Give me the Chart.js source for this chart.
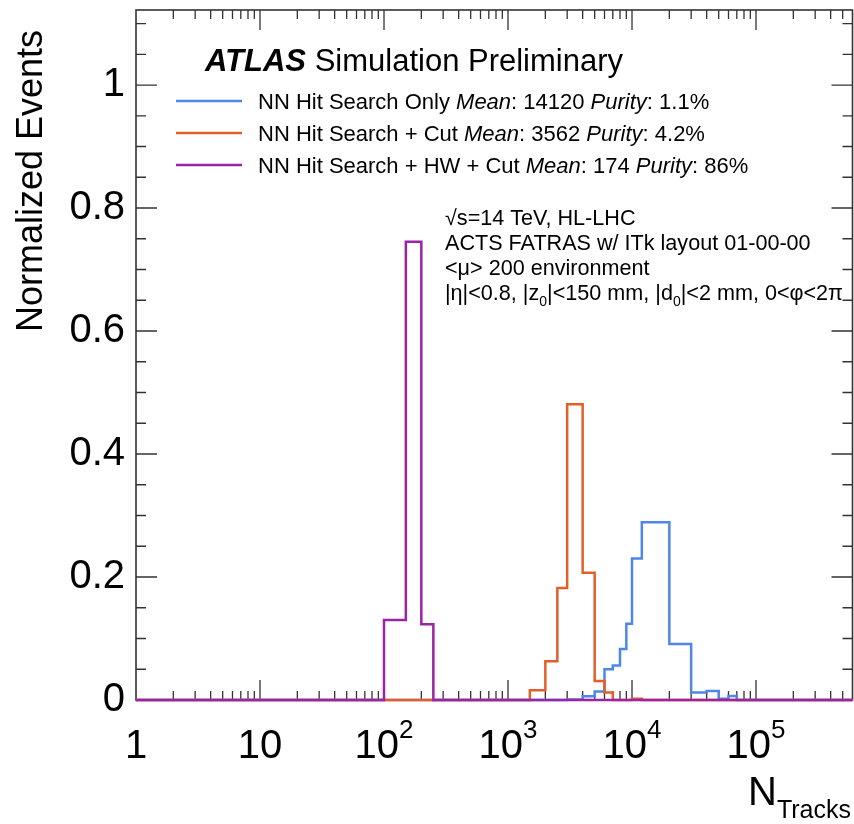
<!DOCTYPE html>
<html>
<head>
<meta charset="utf-8">
<script src="https://cdn.jsdelivr.net/npm/chart.js@4.4.0/dist/chart.umd.min.js"></script>
<style>
  html, body { margin: 0; padding: 0; background: #fff; }
  #wrap { width: 854px; height: 824px; }
</style>
</head>
<body>
<div id="wrap"><canvas id="tracks-chart" width="854" height="824"></canvas></div>
<script>
// Bin edges (number of tracks) and normalized bin contents
const blueEdges = [3000, 4000, 5000, 6000, 7000, 8000, 9000, 10000, 12000, 20000, 30000, 40000, 50000, 60000, 70000];
const blueValues = [0.001, 0.006, 0.014, 0.050, 0.056, 0.083, 0.124, 0.230, 0.289, 0.091, 0.012, 0.0145, 0.002, 0.0065];

const orangeEdges = [1500, 2000, 2500, 3000, 4000, 5000, 6000, 7000, 10000, 12000];
const orangeValues = [0.016, 0.063, 0.182, 0.481, 0.207, 0.031, 0.012, 0, 0.002];

const purpleEdges = [100, 150, 200, 250];
const purpleValues = [0.13, 0.745, 0.123];

const seriesNames = ['NN Hit Search Only', 'NN Hit Search + Cut', 'NN Hit Search + HW + Cut'];
const seriesMeans = ['14120', '3562', '174'];
const seriesPurity = ['1.1%', '4.2%', '86%'];
const seriesColors = ['#4d88e6', '#e35f2a', '#9c22a8'];

const xRange = [1, 6e5];
const yRange = [0, 1.122];
const xTickValues = [1, 10, 100, 1000, 10000, 100000];
const xTickBase = ['1', '10', '10', '10', '10', '10'];
const xTickExp = ['', '', '2', '3', '4', '5'];
const yTickValues = [0, 0.2, 0.4, 0.6, 0.8, 1];
const yTickLabels = ['0', '0.2', '0.4', '0.6', '0.8', '1'];

const FONT = '"Liberation Sans", Arial, Helvetica, sans-serif';

// Turn edges + contents into step points spanning the whole axis
function histPoints(edges, values) {
  const pts = [{ x: xRange[0], y: 0 }];
  values.forEach((v, i) => pts.push({ x: edges[i], y: v }));
  pts.push({ x: edges[edges.length - 1], y: 0 });
  pts.push({ x: xRange[1], y: 0 });
  return pts;
}

// Draw a list of text runs one after another on the same line
function drawRuns(ctx, x, y, runs) {
  runs.forEach(r => {
    ctx.font = r.font;
    ctx.fillText(r.t, x, y + (r.dy || 0));
    x += ctx.measureText(r.t).width;
  });
  return x;
}

/** Frame with inward ticks on all four sides (ROOT style). */
const frameTicks = {
  id: 'frameTicks',
  beforeDatasetsDraw(chart) {
    const { ctx, chartArea: a, scales: { x, y } } = chart;
    ctx.save();
    ctx.strokeStyle = '#333';
    ctx.lineWidth = 1.6;
    ctx.strokeRect(a.left, a.top, a.right - a.left, a.bottom - a.top);
    ctx.lineWidth = 1.3;
    ctx.beginPath();
    for (let d = 1; d < xRange[1]; d *= 10) {
      for (let m = 1; m <= 9; m++) {
        const v = d * m;
        if (v <= xRange[0] || v >= xRange[1]) continue;
        const px = x.getPixelForValue(v);
        const len = m === 1 ? 20 : 9;
        ctx.moveTo(px, a.bottom); ctx.lineTo(px, a.bottom - len);
        ctx.moveTo(px, a.top); ctx.lineTo(px, a.top + len);
      }
    }
    for (let i = 1; i * 0.05 < yRange[1]; i++) {
      const py = y.getPixelForValue(i * 0.05);
      const len = i % 4 === 0 ? 21 : 10;
      ctx.moveTo(a.left, py); ctx.lineTo(a.left + len, py);
      ctx.moveTo(a.right, py); ctx.lineTo(a.right - len, py);
    }
    ctx.stroke();

    // x tick labels with raised exponents
    ctx.fillStyle = '#000';
    ctx.textBaseline = 'alphabetic';
    xTickValues.forEach((v, i) => {
      const px = x.getPixelForValue(v);
      ctx.font = '40px ' + FONT;
      const wb = ctx.measureText(xTickBase[i]).width;
      ctx.font = '26px ' + FONT;
      const we = xTickExp[i] ? ctx.measureText(xTickExp[i]).width : 0;
      const x0 = px - (wb + we) / 2;
      drawRuns(ctx, x0, a.bottom + 58, [
        { t: xTickBase[i], font: '40px ' + FONT },
        { t: xTickExp[i], font: '26px ' + FONT, dy: -20 }
      ]);
    });
    ctx.restore();
  },
  afterDraw(chart) {
    const { ctx } = chart;
    ctx.save();
    ctx.fillStyle = '#000';
    ctx.textBaseline = 'alphabetic';

    // ATLAS label
    drawRuns(ctx, 205, 71, [
      { t: 'ATLAS', font: 'italic bold 31px ' + FONT },
      { t: ' Simulation Preliminary', font: '31px ' + FONT }
    ]);

    // legend
    seriesNames.forEach((name, i) => {
      const cy = 101 + i * 32;
      ctx.strokeStyle = seriesColors[i];
      ctx.lineWidth = 2.5;
      ctx.beginPath();
      ctx.moveTo(176, cy); ctx.lineTo(242, cy);
      ctx.stroke();
      drawRuns(ctx, 258, cy + 8, [
        { t: name + ' ', font: '22px ' + FONT },
        { t: 'Mean', font: 'italic 22px ' + FONT },
        { t: ': ' + seriesMeans[i] + ' ', font: '22px ' + FONT },
        { t: 'Purity', font: 'italic 22px ' + FONT },
        { t: ': ' + seriesPurity[i], font: '22px ' + FONT }
      ]);
    });

    // conditions text
    const f = '21.6px ' + FONT, fs = '14px ' + FONT;
    drawRuns(ctx, 445, 225, [{ t: '\u221As=14 TeV, HL-LHC', font: f }]);
    drawRuns(ctx, 445, 250, [{ t: 'ACTS FATRAS w/ ITk layout 01-00-00', font: f }]);
    drawRuns(ctx, 445, 275, [{ t: '<\u03BC> 200 environment', font: f }]);
    drawRuns(ctx, 445, 300, [
      { t: '|\u03B7|<0.8, |z', font: f },
      { t: '0', font: fs, dy: 6 },
      { t: '|<150 mm, |d', font: f },
      { t: '0', font: fs, dy: 6 },
      { t: '|<2 mm, 0<\u03C6<2\u03C0', font: f }
    ]);

    // axis titles
    ctx.font = '25px ' + FONT;
    const wt = ctx.measureText('Tracks').width;
    ctx.font = '40px ' + FONT;
    const wn = ctx.measureText('N').width;
    drawRuns(ctx, 851 - wt - wn, 805, [
      { t: 'N', font: '40px ' + FONT },
      { t: 'Tracks', font: '25px ' + FONT, dy: 13 }
    ]);

    ctx.translate(42, 30);
    ctx.rotate(-Math.PI / 2);
    ctx.textAlign = 'right';
    ctx.font = '36px ' + FONT;
    ctx.fillText('Normalized Events', 0, 0);
    ctx.restore();
  }
};

function renderTracksChart() {
  const ctx = document.getElementById('tracks-chart');
  if (!ctx || typeof Chart === 'undefined') return;

  const line = (i, edges, values, order) => ({
    label: seriesNames[i],
    data: histPoints(edges, values),
    borderColor: seriesColors[i],
    borderWidth: 2.5,
    stepped: true,
    pointRadius: 0,
    fill: false,
    clip: false,
    order
  });

  new Chart(ctx, {
    type: 'line',
    data: {
      datasets: [
        line(0, blueEdges, blueValues, 3),
        line(1, orangeEdges, orangeValues, 2),
        line(2, purpleEdges, purpleValues, 1)
      ]
    },
    options: {
      responsive: false,
      animation: false,
      layout: { padding: { top: 10, right: 1.5, left: 0, bottom: 0 } },
      plugins: { legend: { display: false }, tooltip: { enabled: false } },
      scales: {
        x: {
          type: 'logarithmic',
          min: xRange[0],
          max: xRange[1],
          grid: { display: false },
          border: { display: false },
          ticks: { display: false },
          afterFit: s => { s.height = 124; s.paddingLeft = 0; s.paddingRight = 0; }
        },
        y: {
          type: 'linear',
          min: yRange[0],
          max: yRange[1],
          grid: { display: false, drawTicks: false },
          border: { display: false },
          afterBuildTicks: s => { s.ticks = yTickValues.map(v => ({ value: v })); },
          ticks: {
            padding: 11,
            color: '#000',
            font: { family: FONT, size: 40 },
            callback: (value, index) => yTickLabels[index]
          },
          // the top label sits well below the frame, so no extra room is needed
          afterFit: s => { s.width = 136; s.paddingTop = 0; s.paddingBottom = 0; }
        }
      }
    },
    plugins: [frameTicks]
  });
}

renderTracksChart();
</script>
</body>
</html>
